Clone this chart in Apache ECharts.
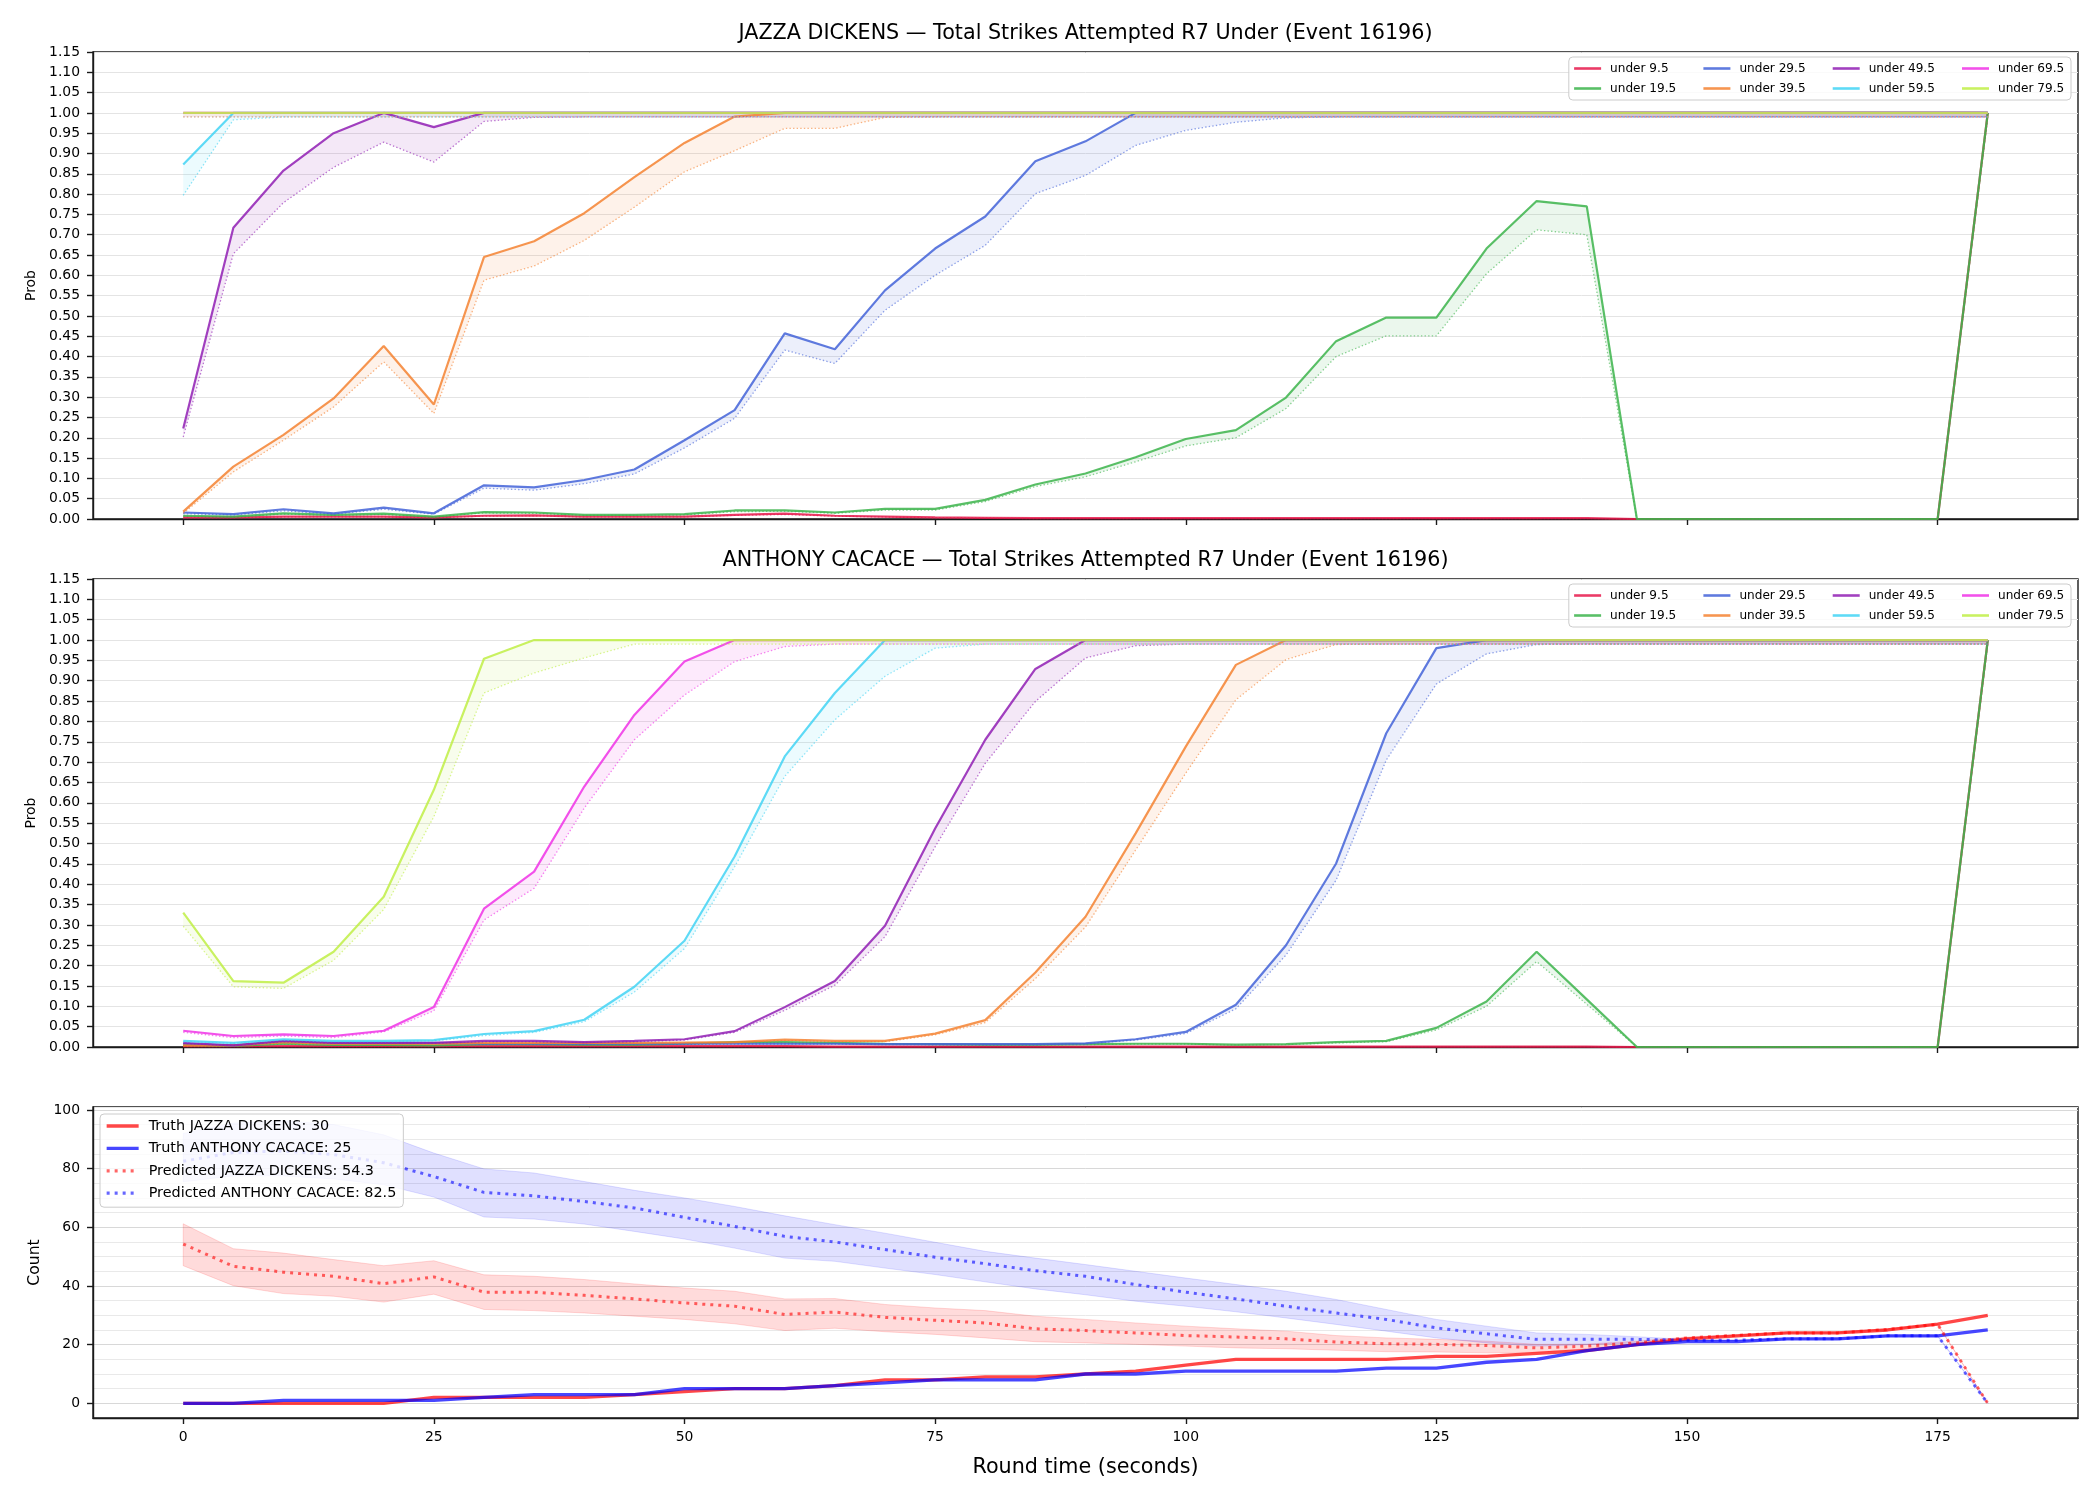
<!DOCTYPE html>
<html>
<head>
<meta charset="utf-8">
<script src="https://cdn.jsdelivr.net/npm/echarts@6/dist/echarts.min.js"></script>
<style>
html,body{margin:0;padding:0;background:#ffffff;}
#chart{width:2100px;height:1500px;}
</style>
</head>
<body>
<div id="chart"></div>
<script>
// ---------------- DATA ----------------
const times = [0,5,10,15,20,25,30,35,40,45,50,55,60,65,70,75,80,85,90,95,100,105,110,115,120,125,130,135,140,145,150,155,160,165,170,175,180];
const thresholds = ['under 9.5','under 19.5','under 29.5','under 39.5','under 49.5','under 59.5','under 69.5','under 79.5'];
const xTicks = [0,25,50,75,100,125,150,175];
const countTicks = [0,20,40,60,80,100];

const titleJD = 'JAZZA DICKENS — Total Strikes Attempted R7 Under (Event 16196)';
const titleAC = 'ANTHONY CACACE — Total Strikes Attempted R7 Under (Event 16196)';

// JAZZA DICKENS: solid line and dotted (lower) line per threshold
const jd_u9_5    = [0.004,0.004,0.006,0.006,0.006,0.004,0.008,0.009,0.006,0.006,0.006,0.010,0.013,0.008,0.006,0.004,0.003,0.002,0.002,0.002,0.002,0.002,0.002,0.002,0.002,0.002,0.002,0.002,0.002,0,0,0,0,0,0,0,1.0];
const jd_u9_5_lo = [0.003,0.003,0.005,0.005,0.005,0.003,0.007,0.008,0.005,0.005,0.005,0.009,0.011,0.007,0.005,0.003,0.002,0.001,0.001,0.001,0.001,0.001,0.001,0.001,0.001,0.001,0.001,0.001,0.001,0,0,0,0,0,0,0,0.99];
const jd_u19_5    = [0.008,0.006,0.014,0.010,0.013,0.006,0.017,0.016,0.010,0.010,0.012,0.021,0.021,0.016,0.025,0.025,0.047,0.085,0.112,0.152,0.197,0.219,0.299,0.438,0.496,0.496,0.666,0.783,0.770,0,0,0,0,0,0,0,1.0];
const jd_u19_5_lo = [0.007,0.005,0.012,0.009,0.011,0.005,0.015,0.014,0.009,0.009,0.010,0.018,0.019,0.014,0.022,0.022,0.043,0.080,0.104,0.141,0.180,0.200,0.272,0.400,0.451,0.451,0.604,0.712,0.700,0,0,0,0,0,0,0,0.99];
const jd_u29_5    = [0.016,0.012,0.024,0.014,0.028,0.014,0.083,0.078,0.096,0.122,0.194,0.268,0.457,0.418,0.563,0.666,0.745,0.881,0.930,1,1,1,1,1,1,1,1,1,1,1,1,1,1,1,1,1,1];
const jd_u29_5_lo = [0.013,0.010,0.020,0.012,0.024,0.012,0.076,0.071,0.087,0.111,0.175,0.248,0.416,0.383,0.514,0.600,0.674,0.801,0.846,0.920,0.957,0.977,0.988,0.99,0.99,0.99,0.99,0.99,0.99,0.99,0.99,0.99,0.99,0.99,0.99,0.99,0.99];
const jd_u39_5    = [0.018,0.129,0.207,0.297,0.426,0.282,0.645,0.684,0.753,0.842,0.926,0.991,1,1,1,1,1,1,1,1,1,1,1,1,1,1,1,1,1,1,1,1,1,1,1,1,1];
const jd_u39_5_lo = [0.014,0.116,0.194,0.276,0.387,0.260,0.588,0.623,0.686,0.768,0.855,0.907,0.962,0.962,0.989,0.99,0.99,0.99,0.99,0.99,0.99,0.99,0.99,0.99,0.99,0.99,0.99,0.99,0.99,0.99,0.99,0.99,0.99,0.99,0.99,0.99,0.99];
const jd_u49_5    = [0.223,0.717,0.858,0.950,1,0.965,1,1,1,1,1,1,1,1,1,1,1,1,1,1,1,1,1,1,1,1,1,1,1,1,1,1,1,1,1,1,1];
const jd_u49_5_lo = [0.202,0.653,0.779,0.866,0.928,0.879,0.979,0.989,0.99,0.99,0.99,0.99,0.99,0.99,0.99,0.99,0.99,0.99,0.99,0.99,0.99,0.99,0.99,0.99,0.99,0.99,0.99,0.99,0.99,0.99,0.99,0.99,0.99,0.99,0.99,0.99,0.99];
const jd_u59_5    = [0.873,1,1,1,1,1,1,1,1,1,1,1,1,1,1,1,1,1,1,1,1,1,1,1,1,1,1,1,1,1,1,1,1,1,1,1,1];
const jd_u59_5_lo = [0.797,0.983,0.99,0.99,0.99,0.99,0.99,0.99,0.99,0.99,0.99,0.99,0.99,0.99,0.99,0.99,0.99,0.99,0.99,0.99,0.99,0.99,0.99,0.99,0.99,0.99,0.99,0.99,0.99,0.99,0.99,0.99,0.99,0.99,0.99,0.99,0.99];
const jd_u69_5    = [1,1,1,1,1,1,1,1,1,1,1,1,1,1,1,1,1,1,1,1,1,1,1,1,1,1,1,1,1,1,1,1,1,1,1,1,1];
const jd_u69_5_lo = [0.99,0.99,0.99,0.99,0.99,0.99,0.99,0.99,0.99,0.99,0.99,0.99,0.99,0.99,0.99,0.99,0.99,0.99,0.99,0.99,0.99,0.99,0.99,0.99,0.99,0.99,0.99,0.99,0.99,0.99,0.99,0.99,0.99,0.99,0.99,0.99,0.99];
const jd_u79_5    = [1,1,1,1,1,1,1,1,1,1,1,1,1,1,1,1,1,1,1,1,1,1,1,1,1,1,1,1,1,1,1,1,1,1,1,1,1];
const jd_u79_5_lo = [0.99,0.99,0.99,0.99,0.99,0.99,0.99,0.99,0.99,0.99,0.99,0.99,0.99,0.99,0.99,0.99,0.99,0.99,0.99,0.99,0.99,0.99,0.99,0.99,0.99,0.99,0.99,0.99,0.99,0.99,0.99,0.99,0.99,0.99,0.99,0.99,0.99];

// ANTHONY CACACE
const ac_u9_5    = [0.002,0.002,0.002,0.002,0.002,0.002,0.002,0.002,0.002,0.002,0.002,0.002,0.002,0.001,0.001,0.001,0.001,0.001,0.001,0.001,0.001,0.001,0.001,0.001,0.001,0.001,0.001,0.001,0.001,0,0,0,0,0,0,0,1.0];
const ac_u9_5_lo = [0.001,0.001,0.001,0.001,0.001,0.001,0.001,0.001,0.001,0.001,0.001,0.001,0.001,0.001,0.001,0.001,0.001,0.001,0.001,0.001,0.001,0.001,0.001,0.001,0.001,0.001,0.001,0.001,0.001,0,0,0,0,0,0,0,0.99];
const ac_u19_5    = [0.005,0.003,0.008,0.005,0.005,0.004,0.007,0.007,0.006,0.006,0.008,0.012,0.012,0.010,0.008,0.007,0.006,0.006,0.007,0.008,0.008,0.006,0.007,0.012,0.015,0.047,0.112,0.234,0.117,0,0,0,0,0,0,0,1.0];
const ac_u19_5_lo = [0.004,0.002,0.007,0.004,0.004,0.003,0.006,0.006,0.005,0.005,0.007,0.010,0.010,0.009,0.007,0.006,0.005,0.005,0.006,0.007,0.007,0.005,0.006,0.010,0.013,0.042,0.100,0.210,0.105,0,0,0,0,0,0,0,0.99];
const ac_u29_5    = [0.008,0.004,0.014,0.010,0.010,0.010,0.008,0.008,0.008,0.008,0.008,0.008,0.008,0.008,0.007,0.007,0.007,0.007,0.009,0.019,0.037,0.104,0.250,0.451,0.771,0.980,1,1,1,1,1,1,1,1,1,1,1];
const ac_u29_5_lo = [0.007,0.003,0.012,0.009,0.009,0.009,0.007,0.007,0.007,0.007,0.007,0.007,0.007,0.007,0.006,0.006,0.006,0.006,0.008,0.017,0.033,0.094,0.226,0.410,0.705,0.892,0.966,0.989,0.99,0.99,0.99,0.99,0.99,0.99,0.99,0.99,0.99];
const ac_u39_5    = [0.004,0.004,0.012,0.008,0.008,0.008,0.010,0.010,0.010,0.010,0.011,0.012,0.018,0.015,0.015,0.033,0.066,0.183,0.320,0.525,0.738,0.939,1,1,1,1,1,1,1,1,1,1,1,1,1,1,1];
const ac_u39_5_lo = [0.003,0.003,0.010,0.007,0.007,0.007,0.009,0.009,0.009,0.009,0.010,0.011,0.016,0.013,0.013,0.030,0.060,0.168,0.295,0.484,0.673,0.853,0.952,0.989,0.99,0.99,0.99,0.99,0.99,0.99,0.99,0.99,0.99,0.99,0.99,0.99,0.99];
const ac_u49_5    = [0.010,0.004,0.015,0.010,0.010,0.010,0.015,0.015,0.012,0.015,0.019,0.039,0.098,0.162,0.298,0.537,0.755,0.929,1,1,1,1,1,1,1,1,1,1,1,1,1,1,1,1,1,1,1];
const ac_u49_5_lo = [0.009,0.003,0.013,0.009,0.009,0.009,0.013,0.013,0.011,0.013,0.017,0.036,0.090,0.152,0.271,0.492,0.697,0.849,0.956,0.986,0.99,0.99,0.99,0.99,0.99,0.99,0.99,0.99,0.99,0.99,0.99,0.99,0.99,0.99,0.99,0.99,0.99];
const ac_u59_5    = [0.015,0.010,0.019,0.015,0.015,0.017,0.032,0.039,0.067,0.148,0.261,0.468,0.714,0.870,1,1,1,1,1,1,1,1,1,1,1,1,1,1,1,1,1,1,1,1,1,1,1];
const ac_u59_5_lo = [0.013,0.009,0.017,0.013,0.013,0.015,0.028,0.036,0.062,0.135,0.242,0.443,0.665,0.804,0.911,0.980,0.99,0.99,0.99,0.99,0.99,0.99,0.99,0.99,0.99,0.99,0.99,0.99,0.99,0.99,0.99,0.99,0.99,0.99,0.99,0.99,0.99];
const ac_u69_5    = [0.040,0.027,0.031,0.027,0.040,0.098,0.340,0.431,0.640,0.816,0.947,1,1,1,1,1,1,1,1,1,1,1,1,1,1,1,1,1,1,1,1,1,1,1,1,1,1];
const ac_u69_5_lo = [0.036,0.023,0.027,0.023,0.037,0.089,0.312,0.390,0.587,0.755,0.865,0.947,0.984,0.99,0.99,0.99,0.99,0.99,0.99,0.99,0.99,0.99,0.99,0.99,0.99,0.99,0.99,0.99,0.99,0.99,0.99,0.99,0.99,0.99,0.99,0.99,0.99];
const ac_u79_5    = [0.330,0.162,0.158,0.234,0.369,0.632,0.954,1,1,1,1,1,1,1,1,1,1,1,1,1,1,1,1,1,1,1,1,1,1,1,1,1,1,1,1,1,1];
const ac_u79_5_lo = [0.297,0.148,0.144,0.213,0.338,0.566,0.870,0.919,0.956,0.990,0.99,0.99,0.99,0.99,0.99,0.99,0.99,0.99,0.99,0.99,0.99,0.99,0.99,0.99,0.99,0.99,0.99,0.99,0.99,0.99,0.99,0.99,0.99,0.99,0.99,0.99,0.99];

// Count panel
const truthJD = [0,0,0,0,0,2,2,2,2,3,4,5,5,6,8,8,9,9,10,11,13,15,15,15,15,16,16,17,18,20,22,23,24,24,25,27,30];
const truthAC = [0,0,1,1,1,1,2,3,3,3,5,5,5,6,7,8,8,8,10,10,11,11,11,11,12,12,14,15,18,20,21,21,22,22,23,23,25];
const predJD    = [54.3,46.7,44.7,43.3,40.8,43.1,37.9,37.9,36.8,35.6,34.2,33.1,30.3,31.1,29.3,28.3,27.4,25.4,24.8,24.0,23.1,22.6,22.0,20.9,20.3,20.1,19.7,18.9,19.5,20.6,22.3,23.2,24.0,24.0,25.2,26.9,0];
const predJD_hi = [61.2,52.7,51.2,49.0,46.9,48.6,43.8,43.3,42.2,40.7,39.3,38.2,35.6,35.7,33.7,32.5,31.6,29.7,28.6,27.4,26.3,25.4,24.6,23.1,22.3,21.8,21.2,20.1,20.2,21.2,22.6,23.4,24.2,24.2,25.4,27.1,0];
const predJD_lo = [46.9,40.1,37.4,36.5,34.5,37.2,32.0,31.6,30.8,29.7,28.6,27.1,24.8,25.6,24.4,23.5,22.3,21.0,20.6,20.1,19.5,18.9,18.6,18.1,17.6,17.5,17.2,17.4,18.6,20.2,22.1,23.0,23.9,23.9,25.0,26.8,0];
const predAC    = [82.5,85.5,86.0,84.8,82.0,77.3,71.9,70.7,68.8,66.6,63.4,60.3,56.9,55.0,52.4,49.8,47.6,45.2,43.3,40.5,37.9,35.6,33.1,30.8,28.6,25.7,23.7,21.8,21.8,21.8,21.5,21.5,22.0,22.0,23.0,23.0,0];
const predAC_hi = [92.0,95.5,96.3,95.0,91.5,85.3,79.9,78.5,75.6,72.6,70.0,67.1,63.9,60.9,58.0,54.9,51.8,49.5,47.3,45.0,42.7,40.5,38.2,35.4,32.0,28.6,26.3,24.0,23.5,22.7,21.8,21.7,22.2,22.2,23.2,23.2,0];
const predAC_lo = [75.5,77.5,77.5,76.5,74.5,70.3,63.5,62.8,61.1,58.6,56.0,52.9,49.5,48.4,46.1,43.9,41.4,39.0,37.0,34.8,33.1,31.2,29.1,26.9,24.6,22.3,20.6,19.5,20.0,20.6,21.2,21.3,21.8,21.8,22.8,22.8,0];

const nameTruthJD = 'Truth JAZZA DICKENS: 30';
const nameTruthAC = 'Truth ANTHONY CACACE: 25';
const namePredJD = 'Predicted JAZZA DICKENS: 54.3';
const namePredAC = 'Predicted ANTHONY CACACE: 82.5';

// ---------------- STYLE ----------------
const thrColors = ['#e6194b','#3cb44b','#4363d8','#f58231','#911eb4','#42d4f4','#f032e6','#bfef45'];
const FONT = 'DejaVu Sans';
const frameColor = '#1a1a1a';

function rgba(hex, a) {
  const r = parseInt(hex.slice(1,3),16), g = parseInt(hex.slice(3,5),16), b = parseInt(hex.slice(5,7),16);
  return 'rgba(' + r + ',' + g + ',' + b + ',' + a + ')';
}
function pairs(arr) { return times.map(function (t, i) { return [t, arr[i]]; }); }

function band(xi, yi, lo, hi, fill, stroke) {
  return {
    type: 'custom', xAxisIndex: xi, yAxisIndex: yi, silent: true, animation: false,
    data: [[times[0], lo[0]]],
    renderItem: function (params, api) {
      const pts = [];
      for (let i = 0; i < times.length; i++) pts.push(api.coord([times[i], hi[i]]));
      for (let i = times.length - 1; i >= 0; i--) pts.push(api.coord([times[i], lo[i]]));
      return { type: 'polygon', shape: { points: pts },
        style: { fill: fill, stroke: stroke || null, lineWidth: stroke ? 1 : 0 } };
    }
  };
}

const panels = [
  { solid: [jd_u9_5, jd_u19_5, jd_u29_5, jd_u39_5, jd_u49_5, jd_u59_5, jd_u69_5, jd_u79_5],
    lo:    [jd_u9_5_lo, jd_u19_5_lo, jd_u29_5_lo, jd_u39_5_lo, jd_u49_5_lo, jd_u59_5_lo, jd_u69_5_lo, jd_u79_5_lo] },
  { solid: [ac_u9_5, ac_u19_5, ac_u29_5, ac_u39_5, ac_u49_5, ac_u59_5, ac_u69_5, ac_u79_5],
    lo:    [ac_u9_5_lo, ac_u19_5_lo, ac_u29_5_lo, ac_u39_5_lo, ac_u49_5_lo, ac_u59_5_lo, ac_u69_5_lo, ac_u79_5_lo] }
];

const series = [];
panels.forEach(function (p, gi) {
  for (let k = 0; k < thresholds.length; k++) {
    const c = thrColors[k];
    series.push(band(gi, gi, p.lo[k], p.solid[k], rgba(c, 0.1), null));
    series.push({
      type: 'line', name: thresholds[k], xAxisIndex: gi, yAxisIndex: gi,
      data: pairs(p.solid[k]), symbol: 'none', showSymbol: false, animation: false,
      lineStyle: { color: rgba(c, 0.85), width: 2.2 }, itemStyle: { color: rgba(c, 0.85) }
    });
    series.push({
      type: 'line', name: thresholds[k] + ' lower', xAxisIndex: gi, yAxisIndex: gi,
      data: pairs(p.lo[k]), symbol: 'none', showSymbol: false, animation: false,
      lineStyle: { color: rgba(c, 0.6), width: 1.3, type: [1.4, 2.2] }, itemStyle: { color: rgba(c, 0.6) }
    });
  }
});

// count panel (x axis 2, visible y axis 3)
series.push(band(2, 3, predJD_lo, predJD_hi, 'rgba(255,0,0,0.14)', 'rgba(255,0,0,0.14)'));
series.push(band(2, 3, predAC_lo, predAC_hi, 'rgba(0,0,255,0.12)', 'rgba(0,0,255,0.12)'));
series.push({ type: 'line', name: nameTruthJD, xAxisIndex: 2, yAxisIndex: 3, data: pairs(truthJD),
  symbol: 'none', animation: false, lineStyle: { color: 'rgba(255,0,0,0.72)', width: 3.3 }, itemStyle: { color: 'rgba(255,0,0,0.72)' } });
series.push({ type: 'line', name: nameTruthAC, xAxisIndex: 2, yAxisIndex: 3, data: pairs(truthAC),
  symbol: 'none', animation: false, lineStyle: { color: 'rgba(0,0,255,0.72)', width: 3.3 }, itemStyle: { color: 'rgba(0,0,255,0.72)' } });
series.push({ type: 'line', name: namePredJD, xAxisIndex: 2, yAxisIndex: 3, data: pairs(predJD),
  symbol: 'none', animation: false, lineStyle: { color: 'rgba(255,0,0,0.6)', width: 3, type: [3, 5] }, itemStyle: { color: 'rgba(255,0,0,0.6)' } });
series.push({ type: 'line', name: namePredAC, xAxisIndex: 2, yAxisIndex: 3, data: pairs(predAC),
  symbol: 'none', animation: false, lineStyle: { color: 'rgba(0,0,255,0.6)', width: 3, type: [3, 5] }, itemStyle: { color: 'rgba(0,0,255,0.6)' } });

const grids = [
  { left: 93, top: 52, width: 1985, height: 467 },
  { left: 93, top: 579, width: 1985, height: 468 },
  { left: 93, top: 1107, width: 1985, height: 311 }
].map(function (g) { return Object.assign({ show: true, borderColor: frameColor, borderWidth: 1.4, backgroundColor: 'transparent', containLabel: false }, g); });

const xAxes = [0, 1, 2].map(function (gi) {
  return {
    type: 'value', gridIndex: gi, min: -9, max: 189,
    axisLine: { show: true, onZero: false, lineStyle: { color: frameColor, width: 1.4 } },
    axisTick: { show: true, length: 6, customValues: xTicks, lineStyle: { color: frameColor, width: 1.4 } },
    axisLabel: { show: gi === 2, customValues: xTicks, margin: 12, fontSize: 13.9, color: '#000', fontFamily: FONT },
    splitLine: { show: false },
    name: gi === 2 ? 'Round time (seconds)' : '', nameLocation: 'middle', nameGap: 39,
    nameTextStyle: { fontSize: 20.7, color: '#000', fontFamily: FONT }
  };
});

const yAxes = [0, 1].map(function (gi) {
  return {
    type: 'value', gridIndex: gi, min: 0, max: 1.15, interval: 0.05,
    axisLine: { show: true, onZero: false, lineStyle: { color: frameColor, width: 1.4 } },
    axisTick: { show: true, length: 6, lineStyle: { color: frameColor, width: 1.4 } },
    axisLabel: { formatter: function (v) { return v.toFixed(2); }, margin: 13, fontSize: 13.9, color: '#000', fontFamily: FONT },
    splitLine: { show: true, lineStyle: { color: '#e4e4e4', width: 1 } },
    name: 'Prob', nameLocation: 'middle', nameGap: 55,
    nameTextStyle: { fontSize: 13.9, color: '#000', fontFamily: FONT }
  };
});
// index 2: grid-only axis for the minor grid lines (every 5)
yAxes.push({
  type: 'value', gridIndex: 2, min: -5, max: 101, interval: 5, position: 'right',
  axisLine: { show: false }, axisTick: { show: false }, axisLabel: { show: false },
  splitLine: { show: true, lineStyle: { color: '#e9e9e9', width: 1 } }
});
// index 3: visible count axis (major grid lines at labelled ticks)
yAxes.push({
  type: 'value', gridIndex: 2, min: -5, max: 101, interval: 5, position: 'left',
  axisLine: { show: true, onZero: false, lineStyle: { color: frameColor, width: 1.4 } },
  axisTick: { show: true, length: 6, customValues: countTicks, lineStyle: { color: frameColor, width: 1.4 } },
  axisLabel: { customValues: countTicks, margin: 13, fontSize: 13.9, color: '#000', fontFamily: FONT },
  splitLine: { show: true, lineStyle: { color: '#d8d8d8', width: 1 } },
  name: 'Count', nameLocation: 'middle', nameGap: 49,
  nameTextStyle: { fontSize: 15.6, color: '#000', fontFamily: FONT }
});

const legendOrder = ['under 9.5','under 29.5','under 49.5','under 69.5','under 19.5','under 39.5','under 59.5','under 79.5'];
function thrLegend(top) {
  return {
    type: 'plain', orient: 'horizontal', right: 29, top: top, width: 540,
    padding: [4.5, 6, 4.5, 4], itemGap: 6, itemWidth: 27, itemHeight: 14,
    backgroundColor: 'rgba(255,255,255,0.8)', borderColor: '#cccccc', borderWidth: 1, borderRadius: 4,
    textStyle: { fontFamily: FONT, fontSize: 12.1, color: '#000', width: 86, lineHeight: 14, padding: [0, 0, 0, 4] },
    itemStyle: { opacity: 0 },
    lineStyle: { width: 2.6 },
    selectedMode: false,
    data: legendOrder.map(function (n) {
      const last = (n === 'under 69.5' || n === 'under 79.5');
      return last ? { name: n, textStyle: { width: 67 } } : { name: n };
    })
  };
}

const option = {
  animation: false,
  backgroundColor: '#ffffff',
  textStyle: { fontFamily: FONT },
  title: [
    { text: titleJD, left: 1085.5, top: 33.5, textAlign: 'center', textVerticalAlign: 'middle', padding: 0,
      textStyle: { fontFamily: FONT, fontSize: 20.7, fontWeight: 'normal', color: '#000' } },
    { text: titleAC, left: 1085.5, top: 561, textAlign: 'center', textVerticalAlign: 'middle', padding: 0,
      textStyle: { fontFamily: FONT, fontSize: 20.7, fontWeight: 'normal', color: '#000' } }
  ],
  grid: grids,
  xAxis: xAxes,
  yAxis: yAxes,
  legend: [
    thrLegend(57),
    thrLegend(584),
    {
      type: 'plain', orient: 'vertical', left: 100, top: 1114,
      padding: [5, 7, 7, 5], itemGap: 8.4, itemWidth: 32, itemHeight: 14,
      backgroundColor: 'rgba(255,255,255,0.8)', borderColor: '#cccccc', borderWidth: 1, borderRadius: 4,
      textStyle: { fontFamily: FONT, fontSize: 14.4, color: '#000', lineHeight: 14, padding: [0, 0, 0, 5] },
      itemStyle: { opacity: 0 },
      lineStyle: { width: 3.3 },
      selectedMode: false,
      data: [nameTruthJD, nameTruthAC, namePredJD, namePredAC]
    }
  ],
  series: series
};

const chart = echarts.init(document.getElementById('chart'), null, { renderer: 'canvas', width: 2100, height: 1500 });
chart.setOption(option);
</script>
</body>
</html>
